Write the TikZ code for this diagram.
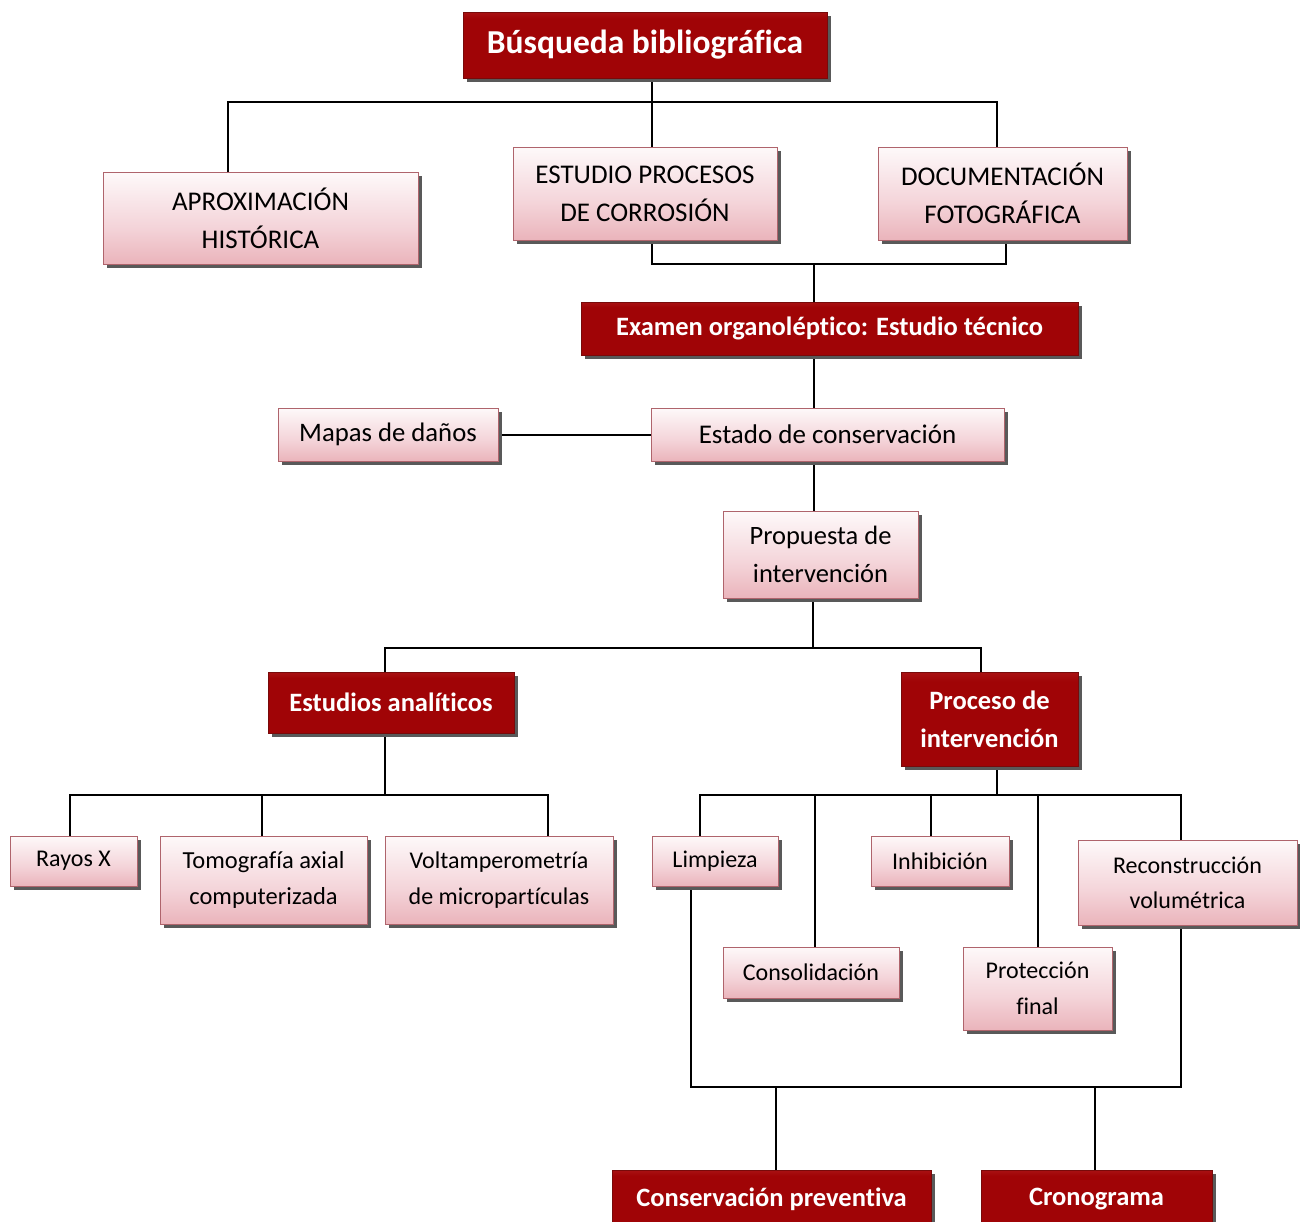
\documentclass[tikz,border=0pt]{standalone}
\usepackage{fontspec}
\setmainfont[RawFeature=-liga]{Carlito}
\usetikzlibrary{shadows,backgrounds}
\definecolor{rTop}{RGB}{198,64,64}
\definecolor{rMid}{RGB}{160,4,6}
\definecolor{rBot}{RGB}{205,88,92}
\definecolor{rEdge}{RGB}{120,10,10}
\definecolor{pBot}{RGB}{222,140,150}
\definecolor{pMid}{RGB}{244,212,217}
\definecolor{pEdge}{RGB}{175,100,108}
\pgfdeclareverticalshading{darkredsh}{100bp}{color(0bp)=(rBot); color(22bp)=(rMid); color(70bp)=(rMid); color(92bp)=(rTop); color(100bp)=(rTop)}
\pgfdeclareverticalshading{pinksh}{100bp}{color(0bp)=(pBot); color(45bp)=(pMid); color(80bp)=(white); color(100bp)=(white)}
\tikzset{
  boxbase/.style={rectangle, inner sep=0pt, align=center,
    drop shadow={shadow xshift=4pt, shadow yshift=-4pt, fill=black!65, opacity=1}},
  darkbox/.style={boxbase, draw=rEdge, line width=1pt, shade, shading=darkredsh, text=white, font=\bfseries},
  lightbox/.style={boxbase, draw=pEdge, line width=1pt, shade, shading=pinksh, text=black},
  conn/.style={draw=black, line width=2pt},
  sz/.style 2 args={minimum width=#1pt, minimum height=#2pt},
}
\newcommand{\fs}[2]{\fontsize{#1}{#2}\selectfont}
\begin{document}
\begin{tikzpicture}[x=1pt,y=-1pt]
\clip (0,0) rectangle (1300,1221);
% nodes
\node[darkbox, sz={364}{66}, font=\bfseries\fs{33.5}{36}] (top) at (645,45) {Búsqueda bibliográfica};
\node[lightbox, sz={315}{92}, font=\fs{27}{38}] (aprox) at (260.5,218) {APROXIMACIÓN\\HISTÓRICA};
\node[lightbox, sz={264}{93}, font=\fs{27}{38}] (estudio) at (645,193.5) {ESTUDIO PROCESOS\\DE CORROSIÓN};
\node[lightbox, sz={249}{93}, font=\fs{27}{38}] (doc) at (1002.5,193.5) {DOCUMENTACIÓN\\FOTOGRÁFICA};
\node[darkbox, sz={497}{53}, font=\bfseries\fs{26.5}{30}] (examen) at (829.5,328.5) {Examen organoléptico: Estudio técnico};
\node[lightbox, sz={353}{53}, font=\fs{27}{30}] (estado) at (827.5,434.5) {Estado de conservación};
\node[lightbox, sz={220}{53}, font=\fs{26.7}{30}] (mapas) at (388,434.5) {Mapas de daños};
\node[lightbox, sz={195}{87}, font=\fs{26.5}{38}] (propuesta) at (820.5,554.5) {Propuesta de\\intervención};
\node[darkbox, sz={246}{61}, font=\bfseries\fs{26.5}{30}] (estan) at (391,702.5) {Estudios analíticos};
\node[darkbox, sz={177}{94}, font=\bfseries\fs{26.5}{38}] (proceso) at (989.5,719) {Proceso de\\intervención};
\node[lightbox, sz={127}{50}, font=\fs{24}{28}] (rayos) at (73.5,861) {Rayos X};
\node[lightbox, sz={207}{88}, font=\fs{24.5}{36}] (tomo) at (263.5,880) {Tomografía axial\\computerizada};
\node[lightbox, sz={228}{88}, font=\fs{24}{36}] (volt) at (499,880) {Voltamperometría\\de micropartículas};
\node[lightbox, sz={126}{50}, font=\fs{24}{28}] (limp) at (715,861) {Limpieza};
\node[lightbox, sz={138}{50}, font=\fs{24}{28}] (inhib) at (940,861) {Inhibición};
\node[lightbox, sz={219}{85}, font=\fs{24}{35}] (recon) at (1187.5,882.5) {Reconstrucción\\volumétrica};
\node[lightbox, sz={176}{51}, font=\fs{24}{28}] (consol) at (811,972.5) {Consolidación};
\node[lightbox, sz={149}{83}, font=\fs{24}{36}] (prot) at (1037.5,988.5) {Protección\\final};
\node[darkbox, sz={319}{58}, font=\bfseries\fs{26.5}{30}] (conserv) at (771.5,1199) {Conservación preventiva};
\node[darkbox, sz={231}{58}, font=\bfseries\fs{26.5}{30}] (crono) at (1096.5,1199) {Cronograma};
% junction coordinates
\coordinate (b1L) at (228,102); \coordinate (b1M) at (652,102); \coordinate (b1R) at (997,102);
\coordinate (b2L) at (652,264); \coordinate (b2M) at (814,264); \coordinate (b2R) at (1006,264);
\coordinate (b3L) at (385,648); \coordinate (b3M) at (813,648); \coordinate (b3R) at (981,648);
\coordinate (b4L) at (70,795); \coordinate (b4T) at (262,795); \coordinate (b4M) at (385,795); \coordinate (b4R) at (548,795);
\coordinate (b5L) at (700,795); \coordinate (b5C) at (815,795); \coordinate (b5P) at (997,795);
\coordinate (b5I) at (931,795); \coordinate (b5F) at (1038,795); \coordinate (b5R) at (1181,795);
\coordinate (b6L) at (691,1087); \coordinate (b6a) at (776,1087); \coordinate (b6b) at (1095,1087); \coordinate (b6R) at (1181,1087);
\begin{scope}[on background layer]
\draw[conn] (aprox.north -| b1L) |- (b1R) -- (doc.north -| b1R);
\draw[conn] (top.south -| b1M) -- (estudio.north -| b1M);
\draw[conn] (estudio.south -| b2L) |- (b2R) -- (doc.south -| b2R);
\draw[conn] (b2M) -- (examen.north -| b2M);
\draw[conn] (examen.south -| b2M) -- (estado.north -| b2M);
\draw[conn] (mapas.east) -- (estado.west);
\draw[conn] (estado.south -| b2M) -- (propuesta.north -| b2M);
\draw[conn] (estan.north -| b3L) |- (b3R) -- (proceso.north -| b3R);
\draw[conn] (propuesta.south -| b3M) -- (b3M);
\draw[conn] (rayos.north -| b4L) |- (b4R) -- (volt.north -| b4R);
\draw[conn] (tomo.north -| b4T) -- (b4T);
\draw[conn] (estan.south -| b4M) -- (b4M);
\draw[conn] (limp.north -| b5L) |- (b5R) -- (recon.north -| b5R);
\draw[conn] (proceso.south -| b5P) -- (b5P);
\draw[conn] (b5C) -- (consol.north -| b5C);
\draw[conn] (b5I) -- (inhib.north -| b5I);
\draw[conn] (b5F) -- (prot.north -| b5F);
\draw[conn] (limp.south -| b6L) |- (b6R) -- (recon.south -| b6R);
\draw[conn] (b6a) -- (conserv.north -| b6a);
\draw[conn] (b6b) -- (crono.north -| b6b);
\end{scope}
\end{tikzpicture}
\end{document}
